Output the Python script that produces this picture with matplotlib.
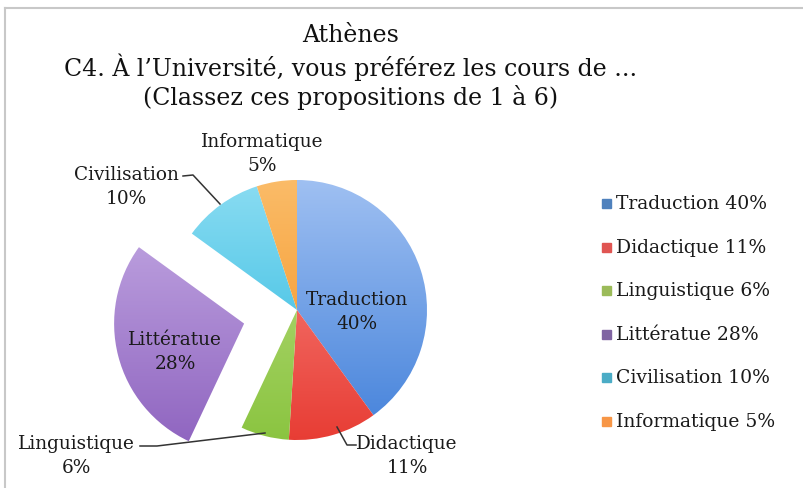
import numpy as np
import matplotlib
matplotlib.use("Agg")
import matplotlib.pyplot as plt
from matplotlib.colors import LinearSegmentedColormap

# ---- data ----
categories = ["Traduction", "Didactique", "Linguistique", "Littératue", "Civilisation", "Informatique"]
values = [40, 11, 6, 28, 10, 5]
explode_flags = [0, 0, 0, 1, 0, 0]
title_lines = ["Athènes",
               "C4. À l\u2019Université, vous préférez les cours de ...",
               "(Classez ces propositions de 1 à 6)"]

# ---- style ----
light = ["#a8c6f4", "#fb9590", "#c0e08a", "#cdb6ea", "#95e0f4", "#fbc070"]
dark = ["#3a7bd8", "#e6352c", "#86c23a", "#8b5fbd", "#19b2dc", "#f48a12"]
legend_col = ["#4f81bd", "#e05552", "#9bbb59", "#8064a2", "#4bacc6", "#f79646"]
FONT = "DejaVu Serif"
W, H = 804, 488

def Y(y):
    return H - y

fig = plt.figure(figsize=(W / 100, H / 100), dpi=100)
ax = fig.add_axes([0, 0, 1, 1])

cx, cy, R = 297, Y(310), 130
explode = [0.42 * R * f for f in explode_flags]
wedges, _ = ax.pie(values, startangle=90, counterclock=False, explode=explode,
                   center=(cx, cy), radius=R, colors=legend_col,
                   wedgeprops=dict(linewidth=0))
ax.set_xlim(0, W)
ax.set_ylim(0, H)
ax.set_aspect("equal")
ax.axis("off")

# gradient fills clipped to wedges
for w, c1, c2 in zip(wedges, light, dark):
    cmap = LinearSegmentedColormap.from_list("g", [c2, c1])
    x0, x1 = cx - 2 * R, cx + 2 * R
    y0, y1 = cy - 1.2 * R, cy + 1.2 * R
    grad = np.linspace(0, 1, 256).reshape(-1, 1)
    im = ax.imshow(grad, cmap=cmap, extent=(x0, x1, y0, y1), origin="lower",
                   aspect="auto", zorder=1.5, interpolation="bilinear")
    im.set_clip_path(w)
    w.set_facecolor("none")
ax.set_xlim(0, W)
ax.set_ylim(0, H)

# border
ax.plot([5, 5], [Y(488), Y(8)], color="#c8c8c8", lw=1.5, zorder=5)
ax.plot([5, W], [Y(8), Y(8)], color="#c8c8c8", lw=1.5, zorder=5)

# title
for i, t in enumerate(title_lines):
    ax.text(351, Y(36 + 31 * i), t, ha="center", va="center", fontsize=17,
            family=FONT, color="#111111")

# data labels
label_pos = {
    "Traduction": (357, 312),
    "Didactique": (407, 456),
    "Linguistique": (76, 456),
    "Littératue": (175, 352),
    "Civilisation": (126, 187),
    "Informatique": (262, 154),
}
for cat, v in zip(categories, values):
    x, y = label_pos[cat]
    ax.text(x, Y(y), f"{cat}\n{v}%", ha="center", va="center", fontsize=13.3,
            family=FONT, color="#1a1a1a", linespacing=1.4, zorder=6)

# leader lines
lc = "#333333"
ax.plot([183, 193, 220], [Y(176), Y(175), Y(204)], color=lc, lw=1.1, zorder=6)
ax.plot([140, 157, 265], [Y(446), Y(446), Y(433)], color=lc, lw=1.1, zorder=6)
ax.plot([337, 347, 356], [Y(427), Y(445), Y(445)], color=lc, lw=1.1, zorder=6)

# legend
for i, (cat, v) in enumerate(zip(categories, values)):
    yy = Y(204 + 43.6 * i)
    ax.add_patch(plt.Rectangle((602, yy - 4), 9, 9, color=legend_col[i], zorder=6))
    ax.text(616, yy, f"{cat} {v}%", ha="left", va="center", fontsize=13.5,
            family=FONT, color="#1a1a1a")

fig.savefig("out.png", dpi=100)
